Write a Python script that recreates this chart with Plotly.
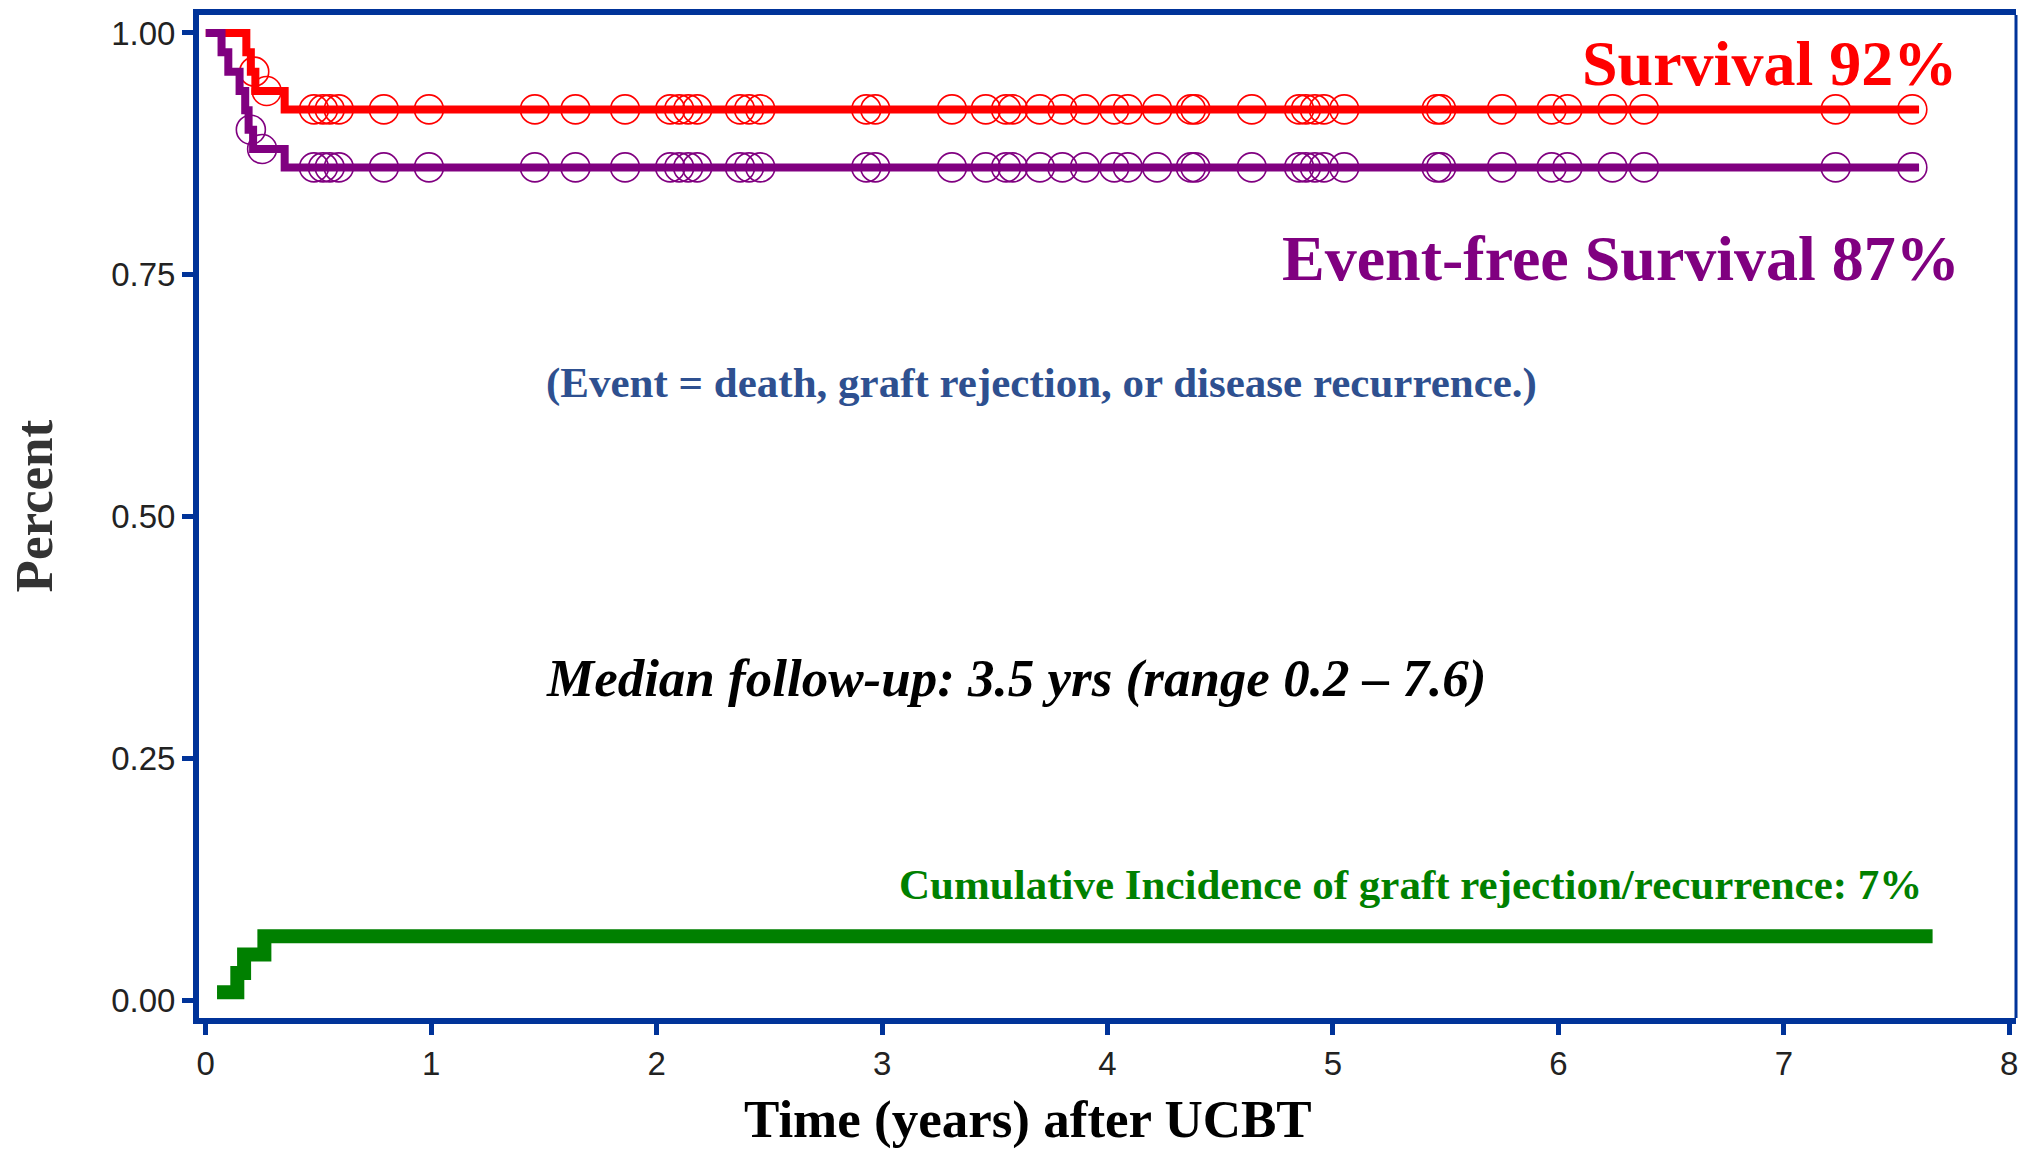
import plotly.graph_objects as go

# ---------------- data ----------------
# Overall survival (Kaplan-Meier step curve)
os_time = [0.0, 0.18, 0.20, 0.22, 0.35, 7.60]
os_surv = [1.0, 0.98, 0.96, 0.94, 0.921, 0.921]

# Event-free survival
efs_time = [0.0, 0.07, 0.10, 0.15, 0.175, 0.19, 0.21, 0.35, 7.60]
efs_surv = [1.0, 0.98, 0.96, 0.94, 0.92, 0.90, 0.88, 0.861, 0.861]

# Cumulative incidence of graft rejection / recurrence
ci_time = [0.05, 0.14, 0.17, 0.26, 7.66]
ci_val = [0.008, 0.028, 0.047, 0.066, 0.066]

# Censoring times (years)
os_early_censor = [0.215, 0.27]
efs_early_censor = [0.20, 0.25]
censor_times = [0.48, 0.52, 0.55, 0.59, 0.79, 0.99, 1.46, 1.64, 1.86,
                2.06, 2.10, 2.14, 2.18, 2.37, 2.41, 2.46, 2.93, 2.97,
                3.31, 3.46, 3.55, 3.58, 3.70, 3.80, 3.90, 4.03, 4.09,
                4.22, 4.37, 4.39, 4.64, 4.85, 4.88, 4.92, 4.96, 5.05,
                5.46, 5.48, 5.75, 5.97, 6.04, 6.24, 6.38, 7.23, 7.57]

x_ticks = [0, 1, 2, 3, 4, 5, 6, 7, 8]
y_ticks = [0.0, 0.25, 0.50, 0.75, 1.00]


def step_value(times, vals, t):
    v = vals[0]
    for ti, vi in zip(times, vals):
        if ti <= t:
            v = vi
    return v


RED = "#FF0000"
PURPLE = "#800080"
GREEN = "#008000"
AXIS = "#003399"
SERIF = "Liberation Serif, Times New Roman, serif"
SANS = "Liberation Sans, Arial, sans-serif"

fig = go.Figure()

fig.add_trace(go.Scatter(x=os_time, y=os_surv, mode="lines", line_shape="hv",
                         line=dict(color=RED, width=8), hoverinfo="skip"))
os_ct = os_early_censor + censor_times
fig.add_trace(go.Scatter(x=os_ct, y=[step_value(os_time, os_surv, t) for t in os_ct],
                         mode="markers",
                         marker=dict(symbol="circle-open", size=29, color=RED,
                                     line=dict(width=1.6, color=RED))))

fig.add_trace(go.Scatter(x=efs_time, y=efs_surv, mode="lines", line_shape="hv",
                         line=dict(color=PURPLE, width=8), hoverinfo="skip"))
efs_ct = efs_early_censor + censor_times
fig.add_trace(go.Scatter(x=efs_ct, y=[step_value(efs_time, efs_surv, t) for t in efs_ct],
                         mode="markers",
                         marker=dict(symbol="circle-open", size=29, color=PURPLE,
                                     line=dict(width=1.6, color=PURPLE))))

fig.add_trace(go.Scatter(x=ci_time, y=ci_val, mode="lines", line_shape="hv",
                         line=dict(color=GREEN, width=14), hoverinfo="skip"))

annotations = [
    dict(text="<b>Survival 92%</b>", x=7.775, y=0.968, xanchor="right", yanchor="middle",
         font=dict(family=SERIF, size=64, color=RED)),
    dict(text="<b>Event-free Survival 87%</b>", x=7.79, y=0.767, xanchor="right", yanchor="middle",
         font=dict(family=SERIF, size=64, color=PURPLE)),
    dict(text="<b>(Event = death, graft rejection, or disease recurrence.)</b>", x=1.50, y=0.638,
         xanchor="left", yanchor="middle",
         font=dict(family=SERIF, size=43, color="#2E5090")),
    dict(text="<b><i>Median follow-up: 3.5 yrs (range 0.2 \u2013 7.6)</i></b>", x=1.50, y=0.332,
         xanchor="left", yanchor="middle",
         font=dict(family=SERIF, size=53, color="#000000")),
    dict(text="<b>Cumulative Incidence of graft rejection/recurrence: 7%</b>", x=7.62, y=0.119,
         xanchor="right", yanchor="middle",
         font=dict(family=SERIF, size=43, color=GREEN)),
    dict(text="<b>Time (years) after UCBT</b>", xref="paper", yref="paper",
         x=0.4565, y=-0.1007, xanchor="center", yanchor="middle",
         font=dict(family=SERIF, size=53, color="#000000")),
    dict(text="<b>Percent</b>", xref="paper", yref="paper", textangle=-90,
         x=-0.0903, y=0.511, xanchor="center", yanchor="middle",
         font=dict(family=SERIF, size=53, color="#333333")),
]
for a in annotations:
    a.setdefault("xref", "x")
    a.setdefault("yref", "y")
    a["showarrow"] = False

fig.update_layout(
    width=2020, height=1155,
    margin=dict(l=199, r=4, t=15, b=137, autoexpand=False),
    paper_bgcolor="white", plot_bgcolor="white",
    showlegend=False,
    annotations=annotations,
    xaxis=dict(range=[-0.03, 8.03], tickvals=x_ticks, ticktext=[str(v) for v in x_ticks],
               automargin=False,
               showgrid=False, zeroline=False,
               showline=True, linecolor=AXIS, linewidth=6, mirror=True,
               ticks="outside", ticklen=11, tickwidth=5, tickcolor=AXIS,
               ticklabeloverflow="allow",
               tickfont=dict(family=SANS, size=33, color="#222222")),
    yaxis=dict(range=[-0.0186, 1.0186], tickvals=y_ticks, tickformat=".2f",
               automargin=False,
               showgrid=False, zeroline=False,
               showline=True, linecolor=AXIS, linewidth=6, mirror=False,
               ticks="outside", ticklen=11, tickwidth=5, tickcolor=AXIS,
               tickfont=dict(family=SANS, size=33, color="#222222")),
    shapes=[dict(type="line", xref="x domain", yref="y domain", x0=1, x1=1, y0=0, y1=1,
                 line=dict(color=AXIS, width=3))],
)

fig.write_html("out.html")
